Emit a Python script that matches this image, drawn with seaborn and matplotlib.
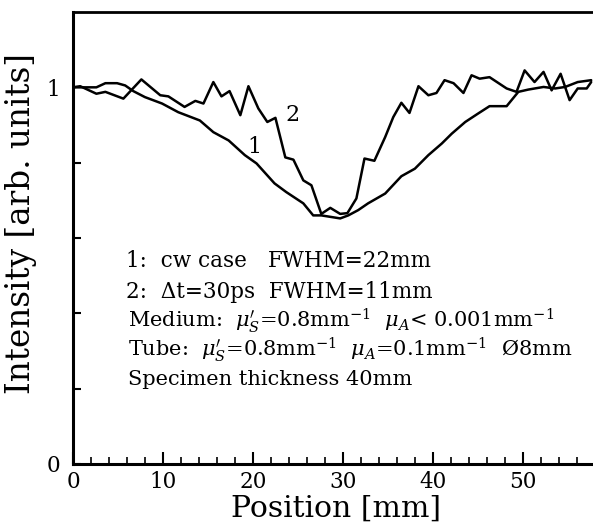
import numpy as np
import pandas as pd
import matplotlib
matplotlib.use('Agg')
import matplotlib.pyplot as plt
from matplotlib.ticker import MultipleLocator
import seaborn as sns

# curve 1: cw case
pos_cw = [0, 2.6, 3.6, 4.9, 5.8, 6.7, 8.0, 9.9, 11.7, 14.1, 15.6, 17.3, 19.1, 20.4,
          22.4, 23.7, 25.6, 26.7, 27.6, 29.7, 30.6, 31.7, 32.8, 34.7, 36.5, 38.0,
          39.5, 41.0, 42.1, 43.6, 45.0, 46.3, 48.2, 49.5, 50.6, 52.3, 53.6, 54.7,
          56.1, 57.6]
int_cw = [1.0, 1.0, 1.011, 1.011, 1.005, 0.990, 0.974, 0.957, 0.934, 0.912, 0.881,
          0.859, 0.820, 0.798, 0.745, 0.722, 0.692, 0.660, 0.660, 0.652, 0.660,
          0.674, 0.692, 0.718, 0.764, 0.784, 0.820, 0.851, 0.877, 0.908, 0.930,
          0.950, 0.950, 0.988, 0.994, 1.001, 0.997, 1.001, 1.014, 1.019]

# curve 2: dt = 30 ps
pos_tr = [0, 0.8, 2.6, 3.6, 5.6, 7.6, 9.7, 10.6, 12.4, 13.6, 14.5, 15.6, 16.5, 17.4,
          18.6, 19.5, 20.6, 21.6, 22.5, 23.6, 24.5, 25.6, 26.5, 27.6, 28.6, 29.7,
          30.5, 31.5, 32.4, 33.5, 34.7, 35.6, 36.5, 37.4, 38.4, 39.5, 40.4, 41.3,
          42.3, 43.4, 44.3, 45.2, 46.3, 48.2, 49.3, 50.2, 51.3, 52.3, 53.2, 54.2,
          55.2, 56.1, 57.1, 57.6]
int_tr = [1.0, 1.003, 0.983, 0.988, 0.970, 1.021, 0.979, 0.976, 0.948, 0.964, 0.957,
          1.014, 0.976, 0.990, 0.926, 1.003, 0.944, 0.908, 0.919, 0.814, 0.808,
          0.753, 0.740, 0.664, 0.680, 0.664, 0.666, 0.705, 0.811, 0.805, 0.868,
          0.921, 0.959, 0.932, 1.003, 0.979, 0.985, 1.019, 1.011, 0.985, 1.032,
          1.023, 1.027, 0.997, 0.988, 1.045, 1.014, 1.041, 0.992, 1.036, 0.966,
          0.997, 0.997, 1.014]

notes = [
    r"Medium:  $\mu_S'$=0.8mm$^{-1}$  $\mu_A$< 0.001mm$^{-1}$",
    r"Tube:  $\mu_S'$=0.8mm$^{-1}$  $\mu_A$=0.1mm$^{-1}$  Ø8mm",
    "Specimen thickness 40mm",
]

sns.set_style('ticks', {'axes.edgecolor': 'black', 'text.color': 'black',
                        'xtick.color': 'black', 'ytick.color': 'black',
                        'axes.labelcolor': 'black'})
plt.rcParams['font.family'] = ['DejaVu Serif']
plt.rcParams['mathtext.fontset'] = 'dejavuserif'

fig = plt.figure(figsize=(5.93, 5.24), dpi=100)
ax = fig.add_axes([73 / 593, 1 - 464 / 524, 1 - 73 / 593, 452 / 524])

sns.lineplot(x=pos_cw, y=int_cw, sort=False, color='black', lw=1.8, ax=ax)
sns.lineplot(x=pos_tr, y=int_tr, sort=False, color='black', lw=1.8, ax=ax)

ax.set_xlim(0, 57.8)
ax.set_ylim(0, 1.2)

ax.spines['right'].set_visible(False)
ax.spines['left'].set_linewidth(2.2)
ax.spines['bottom'].set_linewidth(2.2)
ax.spines['top'].set_linewidth(2.0)

ax.xaxis.set_major_locator(MultipleLocator(10))
ax.xaxis.set_minor_locator(MultipleLocator(2))
ax.set_yticks([0, 0.2, 0.4, 0.6, 0.8, 1.0])
ax.set_yticklabels(['0', '', '', '', '', '1'])
ax.tick_params(axis='x', which='major', direction='in', length=9, width=1.5,
               labelsize=15.5, pad=5)
ax.tick_params(axis='x', which='minor', direction='in', length=5, width=1.2)
ax.tick_params(axis='y', which='major', direction='in', length=6, width=1.5,
               labelsize=15.5, pad=9)
ax.tick_params(top=False, right=False, which='both')

ax.set_xlabel('Position [mm]', fontsize=21.5)
ax.set_ylabel('Intensity [arb. units]', fontsize=23.5)
ax.xaxis.set_label_coords(0.506, -0.068)
ax.yaxis.set_label_coords(-0.07, 0.531)

ax.text(24.4, 0.926, '2', fontsize=16, ha='center', va='center')
ax.text(20.2, 0.842, '1', fontsize=16, ha='center', va='center')

ax.text(5.9, 0.523, '1:  cw case', fontsize=15.5, va='baseline')
ax.text(21.7, 0.523, 'FWHM=22mm', fontsize=15.5, va='baseline')
ax.text(5.9, 0.440, '2:  Δt=30ps  FWHM=11mm', fontsize=15.5, va='baseline')
for yv, s in zip([0.363, 0.286, 0.210], notes):
    ax.text(6.1, yv, s, fontsize=15, va='baseline')

fig.savefig('out.png', dpi=100)
